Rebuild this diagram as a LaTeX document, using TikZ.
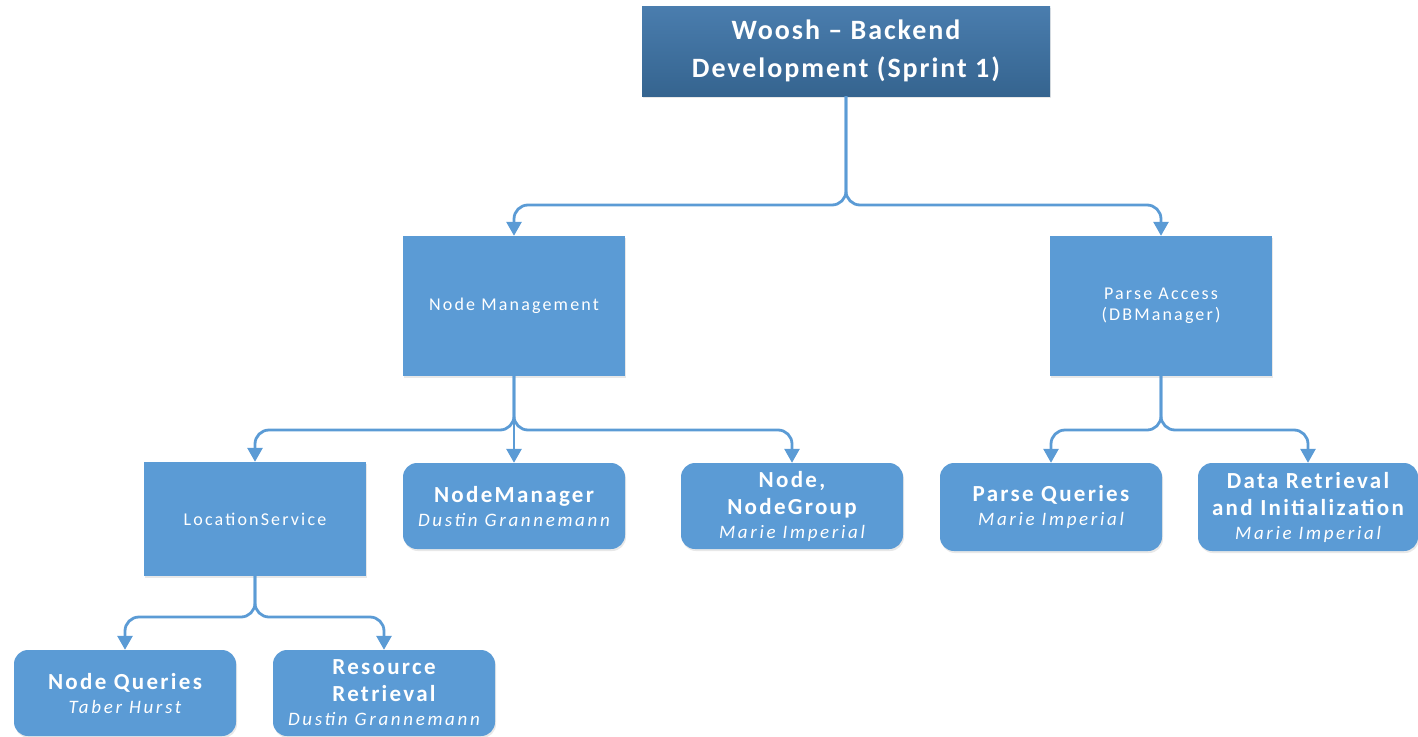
\documentclass[tikz,border=0pt]{standalone}
\usepackage{fontspec}
\setmainfont{Carlito}
\newfontfamily\headfont{Carlito}[LetterSpace=7]
\newfontfamily\groupfont{Carlito}[LetterSpace=12]
\newfontfamily\taskfont{Carlito}[LetterSpace=10]
\newfontfamily\whofont{Carlito}[LetterSpace=14]
\usetikzlibrary{arrows.meta,shadows}
\definecolor{boxblue}{HTML}{5B9BD5}
\definecolor{headtop}{HTML}{4A7DAE}
\definecolor{headbot}{HTML}{35648F}
\definecolor{linkblue}{HTML}{5B9BD5}
\tikzset{
  basebox/.style={fill=boxblue, text=white, align=center, inner sep=2pt,
    drop shadow={opacity=0.18, shadow xshift=1pt, shadow yshift=-2pt}},
  headbox/.style={basebox, top color=headtop, bottom color=headbot,
    minimum width=408pt, minimum height=90pt,
    font=\headfont\fontsize{28}{38}\selectfont\bfseries},
  groupbox/.style={basebox, minimum width=222pt,
    font=\groupfont\fontsize{18}{25}\selectfont},
  taskbox/.style={basebox, rounded corners=14pt, minimum width=222pt, minimum height=86pt,
    font=\taskfont\fontsize{23}{27}\selectfont\bfseries},
  conn/.style={draw=linkblue, line width=2.8pt, rounded corners=14pt,
    -{Triangle[length=14pt,width=15pt]}},
}
\newcommand{\who}[1]{\\[-3pt]{\whofont\fontsize{19}{21}\selectfont\mdseries\itshape #1}}
\begin{document}
\begin{tikzpicture}[x=1pt,y=-1pt]
\useasboundingbox (0,0) rectangle (1418,736);

% header
\node[headbox] (top) at (846,51) {Woosh – Backend\\Development (Sprint 1)};

% second level
\node[groupbox, minimum height=140pt] (nm) at (514,306) {Node Management};
\node[groupbox, minimum height=140pt] (pa) at (1161,306) {Parse Access\\[-4pt](DBManager)};

% third level
\node[groupbox, minimum height=114pt] (ls) at (255,519) {LocationService};
\node[taskbox] (nmgr) at (514,506) {NodeManager\who{Dustin Grannemann}};
\node[taskbox] (ng) at (792,506) {Node,\\NodeGroup\who{Marie Imperial}};
\node[taskbox, minimum height=88pt] (pq) at (1051,507) {Parse Queries\who{Marie Imperial}};
\node[taskbox, minimum height=88pt, minimum width=220pt] (dr) at (1308,507) {Data Retrieval\\and Initialization\who{Marie Imperial}};

% fourth level
\node[taskbox] (nq) at (125,693) {Node Queries\who{Taber Hurst}};
\node[taskbox] (rr) at (384,693) {Resource\\Retrieval\who{Dustin Grannemann}};

% branch levels
\coordinate (b1) at (0,205);
\coordinate (b2) at (0,430);
\coordinate (b3) at (0,430);
\coordinate (b4) at (0,617);

% connectors
\draw[conn] (top.south) -- (top.south |- b1) -- (nm.north |- b1) -- (nm.north);
\draw[conn] (top.south) -- (top.south |- b1) -- (pa.north |- b1) -- (pa.north);

\draw[conn] (nm.south) -- (nm.south |- b2) -- (ls.north |- b2) -- (ls.north);
\draw[conn] (nm.south) -- (nmgr.north);
\draw[conn] (nm.south) -- (nm.south |- b2) -- (ng.north |- b2) -- (ng.north);

\draw[conn] (pa.south) -- (pa.south |- b3) -- (pq.north |- b3) -- (pq.north);
\draw[conn] (pa.south) -- (pa.south |- b3) -- (dr.north |- b3) -- (dr.north);

\draw[conn] (ls.south) -- (ls.south |- b4) -- (nq.north |- b4) -- (nq.north);
\draw[conn] (ls.south) -- (ls.south |- b4) -- (rr.north |- b4) -- (rr.north);
\end{tikzpicture}
\end{document}
